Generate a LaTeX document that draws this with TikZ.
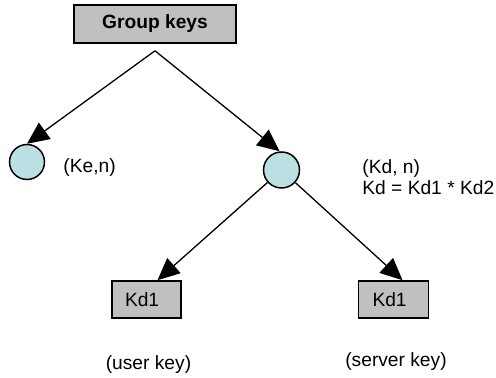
\documentclass[tikz,border=0pt]{standalone}
\usepackage{fontspec}
\setmainfont{Liberation Sans}
\usetikzlibrary{arrows.meta}
\definecolor{boxgray}{RGB}{192,192,192}
\definecolor{nodeblue}{RGB}{187,224,227}
\tikzset{
  keybox/.style={draw=black, line width=0.8pt, fill=boxgray, rectangle, inner sep=0pt},
  keynode/.style={draw=black, line width=0.75pt, fill=nodeblue, circle, inner sep=0pt},
  lbl/.style={inner sep=0pt, font=\fontsize{9.6}{10.5}\selectfont},
  arr/.style={line width=0.65pt, -{Triangle[length=11pt,width=10pt]}},
}
\begin{document}
\begin{tikzpicture}[x=0.5pt,y=-0.5pt]
\useasboundingbox (0,0) rectangle (496,378);
\node[keybox, minimum width=81pt, minimum height=19pt, font=\fontsize{9.6}{10.5}\selectfont\bfseries] (gk) at (155,24) {Group keys};
\node[keynode, minimum size=17.5pt] (c1) at (27,162) {};
\node[keynode, minimum size=18pt] (c2) at (281.5,170) {};
\node[keybox, minimum height=18.5pt, text width=21.5pt, inner xsep=6.5pt, align=left, font=\fontsize{9.6}{10.5}\selectfont] (kd1) at (146.5,299.5) {Kd1};
\node[keybox, minimum height=18.5pt, text width=21pt, inner xsep=7pt, align=left, font=\fontsize{9.6}{10.5}\selectfont] (kd2) at (393.5,299.5) {Kd1};
\node[lbl, anchor=base west] (ke) at (63,173) {(Ke,n)};
\node[lbl, anchor=west, align=left] (kd) at (362,177) {(Kd, n)\\Kd = Kd1 * Kd2};
\node[lbl] (uk) at (148.5,365) {(user key)};
\node[lbl] (sk) at (396,362) {(server key)};
\draw[arr] ([yshift=-3.5pt]gk.south) -- (c1.north);
\draw[arr] ([yshift=-3.5pt]gk.south) -- ([xshift=-1pt]c2.north);
\draw[arr] (c2) -- ([xshift=5.5pt]kd1.north);
\draw[arr] (c2) -- ([xshift=4.5pt]kd2.north);
\end{tikzpicture}
\end{document}
